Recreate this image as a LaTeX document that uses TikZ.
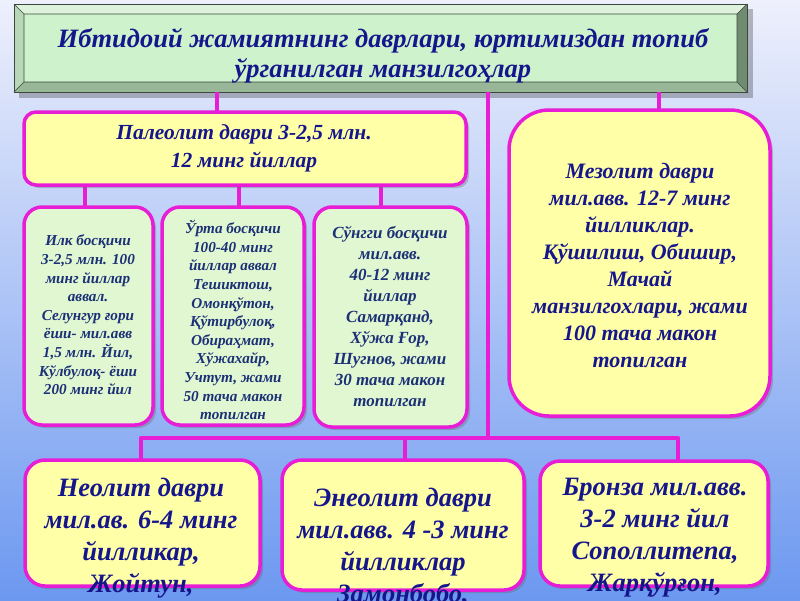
\documentclass[tikz,border=0pt]{standalone}
\usepackage{fontspec}
\setmainfont{Liberation Serif}
\usetikzlibrary{shadows}
\definecolor{mag}{RGB}{232,30,214}
\definecolor{yel}{RGB}{255,255,168}
\definecolor{lgreen}{RGB}{224,247,210}
\definecolor{bgtop}{RGB}{238,240,252}
\definecolor{bgmid}{RGB}{188,202,246}
\definecolor{bgbot}{RGB}{108,152,240}
\definecolor{tblue}{RGB}{22,22,140}
\definecolor{sblue}{RGB}{28,48,118}
\definecolor{face}{RGB}{206,243,204}
\definecolor{bvtop}{RGB}{222,242,220}
\definecolor{bvleft}{RGB}{184,214,184}
\definecolor{bvright}{RGB}{112,140,112}
\definecolor{bvbot}{RGB}{152,182,152}
\definecolor{bvline}{RGB}{60,72,60}
\tikzset{
  conn/.style={draw=mag, line width=4.5pt},
  boxbase/.style={draw=mag, line width=3.5pt, rectangle,
    drop shadow={shadow xshift=3pt, shadow yshift=-3pt, opacity=0.35, fill=black!60}},
  ybox/.style={boxbase, fill=yel},
  gbox/.style={boxbase, fill=lgreen},
  txt/.style={align=center, text=tblue, font=\bfseries\itshape, inner sep=0pt},
  stxt/.style={align=center, text=sblue, font=\bfseries\itshape, inner sep=0pt},
}
\begin{document}
\begin{tikzpicture}[x=1pt,y=-1pt]
\clip (0,0) rectangle (800,600);
\shade[top color=bgtop, middle color=bgmid, bottom color=bgbot] (0,0) rectangle (800,600);

% title box with bevel
\fill[black, opacity=0.25] (19,9) rectangle (753,98);
\node[rectangle, minimum width=733pt, minimum height=88pt, inner sep=0pt] (title) at (380.5,48) {};
\fill[bvtop] (14,4) -- (747,4) -- (737,14) -- (24,14) -- cycle;
\fill[bvleft] (14,4) -- (24,14) -- (24,82) -- (14,92) -- cycle;
\fill[bvright] (747,4) -- (747,92) -- (737,82) -- (737,14) -- cycle;
\fill[bvbot] (14,92) -- (747,92) -- (737,82) -- (24,82) -- cycle;
\fill[face] (24,14) rectangle (737,82);
\draw[bvline, line width=1pt] (14,4) rectangle (747,92);
\draw[bvline, line width=0.6pt] (24,14) rectangle (737,82)
  (14,4) -- (24,14) (747,4) -- (737,14) (747,92) -- (737,82) (14,92) -- (24,82);
\node[txt, font=\bfseries\itshape\fontsize{26.5}{30}\selectfont] (titletext) at (383,56)
  {Ибтидоий жамиятнинг даврлари, юртимиздан топиб\\ўрганилган манзилгоҳлар};

% coordinates for connectors
\coordinate (cA) at (217,0);
\coordinate (cM) at (488,0);
\coordinate (cR) at (659,0);
\coordinate (c1) at (85,0);
\coordinate (c2) at (239,0);
\coordinate (c3) at (381,0);
\coordinate (bus) at (488,438);
\coordinate (bL) at (141,0);
\coordinate (bE) at (405,0);
\coordinate (bR) at (678,0);

% box placeholders
\path (245,148.5) node[rectangle, minimum width=442pt, minimum height=73pt] (paleo) {};
\path (88.5,316) node[rectangle, minimum width=129pt, minimum height=218pt] (ilk) {};
\path (233,316) node[rectangle, minimum width=142pt, minimum height=218pt] (urta) {};
\path (390.5,317) node[rectangle, minimum width=153pt, minimum height=220pt] (sungi) {};
\path (639.5,263) node[rectangle, minimum width=261pt, minimum height=306pt] (mezo) {};
\path (142.5,523) node[rectangle, minimum width=235pt, minimum height=126pt] (neo) {};
\path (403,525) node[rectangle, minimum width=242pt, minimum height=130pt] (eneo) {};
\path (654,523.5) node[rectangle, minimum width=228pt, minimum height=125pt] (bron) {};

% connectors
\draw[conn] (title.south -| cA) -- (paleo.north -| cA);
\draw[conn] (title.south -| cR) -- (mezo.north -| cR);
\draw[conn] (title.south -| cM) -- (bus);
\draw[conn] (paleo.south -| c1) -- (ilk.north -| c1);
\draw[conn] (paleo.south -| c2) -- (urta.north -| c2);
\draw[conn] (paleo.south -| c3) -- (sungi.north -| c3);
\draw[conn, line join=round] (neo.north -| bL) -- (bus -| bL) -- (bus -| bR) -- (bron.north -| bR);
\draw[conn] (bus -| bE) -- (eneo.north -| bE);

% visible boxes
\node[ybox, rounded corners=12pt, minimum width=442pt, minimum height=73pt] at (paleo) {};
\node[gbox, rounded corners=18pt, minimum width=129pt, minimum height=218pt] at (ilk) {};
\node[gbox, rounded corners=18pt, minimum width=142pt, minimum height=218pt] at (urta) {};
\node[gbox, rounded corners=18pt, minimum width=153pt, minimum height=220pt] at (sungi) {};
\node[ybox, rounded corners=40pt, minimum width=261pt, minimum height=306pt] at (mezo) {};
\node[ybox, rounded corners=20pt, minimum width=235pt, minimum height=126pt] at (neo) {};
\node[ybox, rounded corners=20pt, minimum width=242pt, minimum height=130pt] at (eneo) {};
\node[ybox, rounded corners=20pt, minimum width=228pt, minimum height=125pt] at (bron) {};

% texts
\node[txt, font=\bfseries\itshape\fontsize{21.5}{28}\selectfont] at (244,148)
  {Палеолит даври 3-2,5 млн.\\12 минг йиллар};
\node[stxt, font=\bfseries\itshape\fontsize{15.2}{18.6}\selectfont] at (88,315)
  {Илк босқичи\\3-2,5 млн. 100\\минг йиллар\\аввал.\\Селунгур ғори\\ёши- мил.авв\\1,5 млн. Йил,\\Кўлбулоқ- ёши\\200 минг йил};
\node[stxt, font=\bfseries\itshape\fontsize{15.2}{18.6}\selectfont] at (233,320)
  {Ўрта босқичи\\100-40 минг\\йиллар аввал\\Тешиктош,\\Омонқўтон,\\Қўтирбулоқ,\\Обираҳмат,\\Хўжахайр,\\Учтут, жами\\50 тача макон\\топилган};
\node[stxt, font=\bfseries\itshape\fontsize{17}{21}\selectfont] at (390,316)
  {Сўнгги босқичи\\мил.авв.\\40-12 минг\\йиллар\\Самарқанд,\\Хўжа Ғор,\\Шугнов, жами\\30 тача макон\\топилган};
\node[txt, font=\bfseries\itshape\fontsize{22}{27}\selectfont] at (640,265)
  {Мезолит даври\\мил.авв. 12-7 минг\\йилликлар.\\Қўшилиш, Обишир,\\Мачай\\манзилгохлари, жами\\100 тача макон\\топилган};
\node[txt, font=\bfseries\itshape\fontsize{26.5}{32}\selectfont] at (141,538)
  {Неолит даври\\мил.ав. 6-4 минг\\йилликар,\\Жойтун,};
\node[txt, font=\bfseries\itshape\fontsize{26.5}{32}\selectfont] at (403,547)
  {Энеолит даври\\мил.авв. 4 -3 минг\\йилликлар\\Замонбобо,};
\node[txt, font=\bfseries\itshape\fontsize{26.5}{32}\selectfont] at (655,538)
  {Бронза мил.авв.\\3-2 минг йил\\Сополлитепа,\\Жарқўрғон,};
\end{tikzpicture}
\end{document}
